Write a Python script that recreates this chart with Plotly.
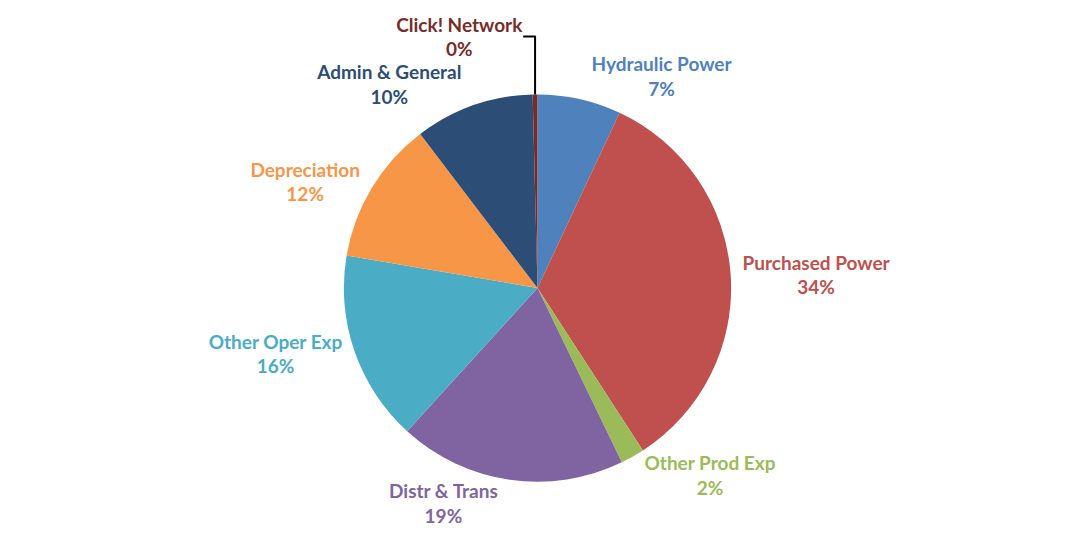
import plotly.graph_objects as go

# cost breakdown, clockwise from 12 o'clock
labels = ["Hydraulic Power", "Purchased Power", "Other Prod Exp", "Distr & Trans",
          "Other Oper Exp", "Depreciation", "Admin & General", "Click! Network"]
shares = [7, 34, 2, 19, 16, 12, 10, 0.4]
colors = ["#4F81BD", "#C0504D", "#9BBB59", "#8064A2",
          "#4BACC6", "#F79646", "#2C4D75", "#772C2A"]

fig = go.Figure()

fig.add_trace(go.Pie(
    labels=labels,
    values=shares,
    sort=False,
    direction="clockwise",
    rotation=0,
    domain=dict(x=[0, 1], y=[0.12, 0.96]),
    marker=dict(colors=colors, line=dict(color="white", width=0)),
    texttemplate="<b>%{label}</b><br><b>%{percent:.0%}</b>",
    textposition="outside",
    outsidetextfont=dict(family="Lato, Open Sans, sans-serif", size=19, color=colors),
    showlegend=False,
    hole=0,
))

fig.update_layout(
    width=1084,
    height=537,
    margin=dict(l=20, r=20, t=8, b=8),
    paper_bgcolor="white",
    plot_bgcolor="white",
)

fig.write_html("out.html")
